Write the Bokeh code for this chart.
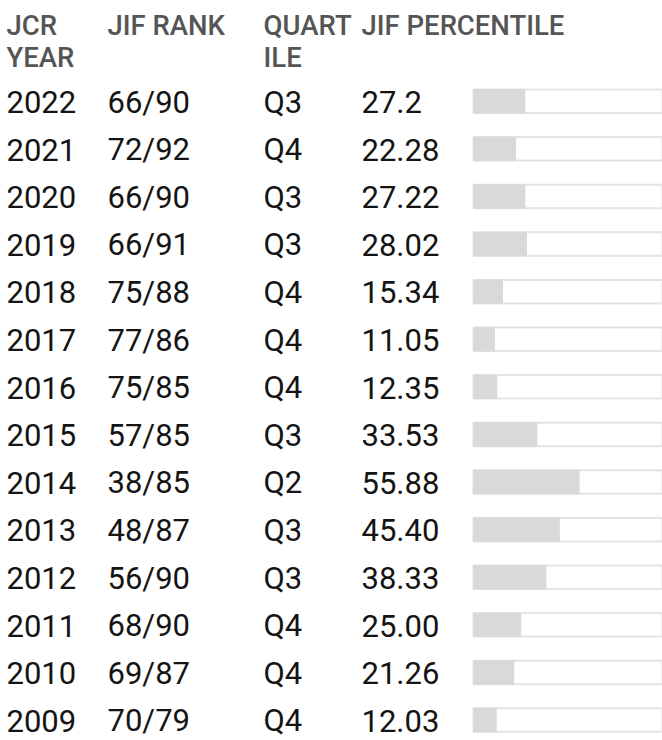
from bokeh.plotting import figure
from bokeh.models import Range1d, ColumnDataSource
from bokeh.core.properties import value
from bokeh.embed import file_html
from bokeh.resources import INLINE

years = ["2022", "2021", "2020", "2019", "2018", "2017", "2016", "2015", "2014", "2013", "2012", "2011", "2010", "2009"]
ranks = ["66/90", "72/92", "66/90", "66/91", "75/88", "77/86", "75/85", "57/85", "38/85", "48/87", "56/90", "68/90", "69/87", "70/79"]
quartiles = ["Q3", "Q4", "Q3", "Q3", "Q4", "Q4", "Q4", "Q3", "Q2", "Q3", "Q3", "Q4", "Q4", "Q4"]
pct_labels = ["27.2", "22.28", "27.22", "28.02", "15.34", "11.05", "12.35", "33.53", "55.88", "45.40", "38.33", "25.00", "21.26", "12.03"]
pct_values = [27.2, 22.28, 27.22, 28.02, 15.34, 11.05, 12.35, 33.53, 55.88, 45.40, 38.33, 25.00, 21.26, 12.03]
header_line1 = ["JCR", "JIF RANK", "QUART", "JIF PERCENTILE"]
header_line2 = ["YEAR", "", "ILE", ""]

W, H = 662, 740
FONT = "Roboto"
HEAD_FONT = "Roboto Medium, Roboto"

col_x = [6, 107, 263, 361]
baseline0 = 112.5      # visual baseline of first row
pitch = 47.6
body_shift = 11.0      # correction for text baseline placement
head_shift = 10.0
bar_left = 473
bar_right = 662
bar_h = 23.5

p = figure(width=W, height=H, output_backend="svg", toolbar_location=None,
           x_range=Range1d(0, W), y_range=Range1d(H, 0), min_border=0)
p.axis.visible = False
p.grid.visible = False
p.outline_line_color = None
p.background_fill_color = "white"
p.border_fill_color = "white"

n = len(years)
bases = [baseline0 + pitch * i for i in range(n)]

# header
hx, hy, ht = [], [], []
for i, x in enumerate(col_x):
    hx.append(x); hy.append(35 - head_shift); ht.append(header_line1[i])
    if header_line2[i]:
        hx.append(x); hy.append(67 - head_shift); ht.append(header_line2[i])
p.text(x=hx, y=hy, text=ht, text_font=value(HEAD_FONT), text_font_size="27.5px",
       text_color="#555555", text_baseline="alphabetic", text_align="left")

# body columns
for cx, col in zip(col_x, [years, ranks, quartiles, pct_labels]):
    p.text(x=[cx] * n, y=[b - body_shift for b in bases], text=col, text_font=value(FONT),
           text_font_size="31px", text_color="#141414", text_baseline="alphabetic", text_align="left")

# bars
src = ColumnDataSource(dict(
    top=[b - bar_h for b in bases], bottom=bases,
    left=[bar_left] * n, right=[bar_right] * n,
    fill_right=[bar_left + v / 100 * (bar_right - bar_left) for v in pct_values],
))
p.quad(left="left", right="right", top="top", bottom="bottom", source=src,
       fill_color="white", line_color="#e4e4e4", line_width=2)
p.quad(left="left", right="fill_right", top="top", bottom="bottom", source=src,
       fill_color="#d9d9d9", line_color="#d9d9d9", line_width=1)

open("out.html", "w").write(file_html(p, INLINE))
